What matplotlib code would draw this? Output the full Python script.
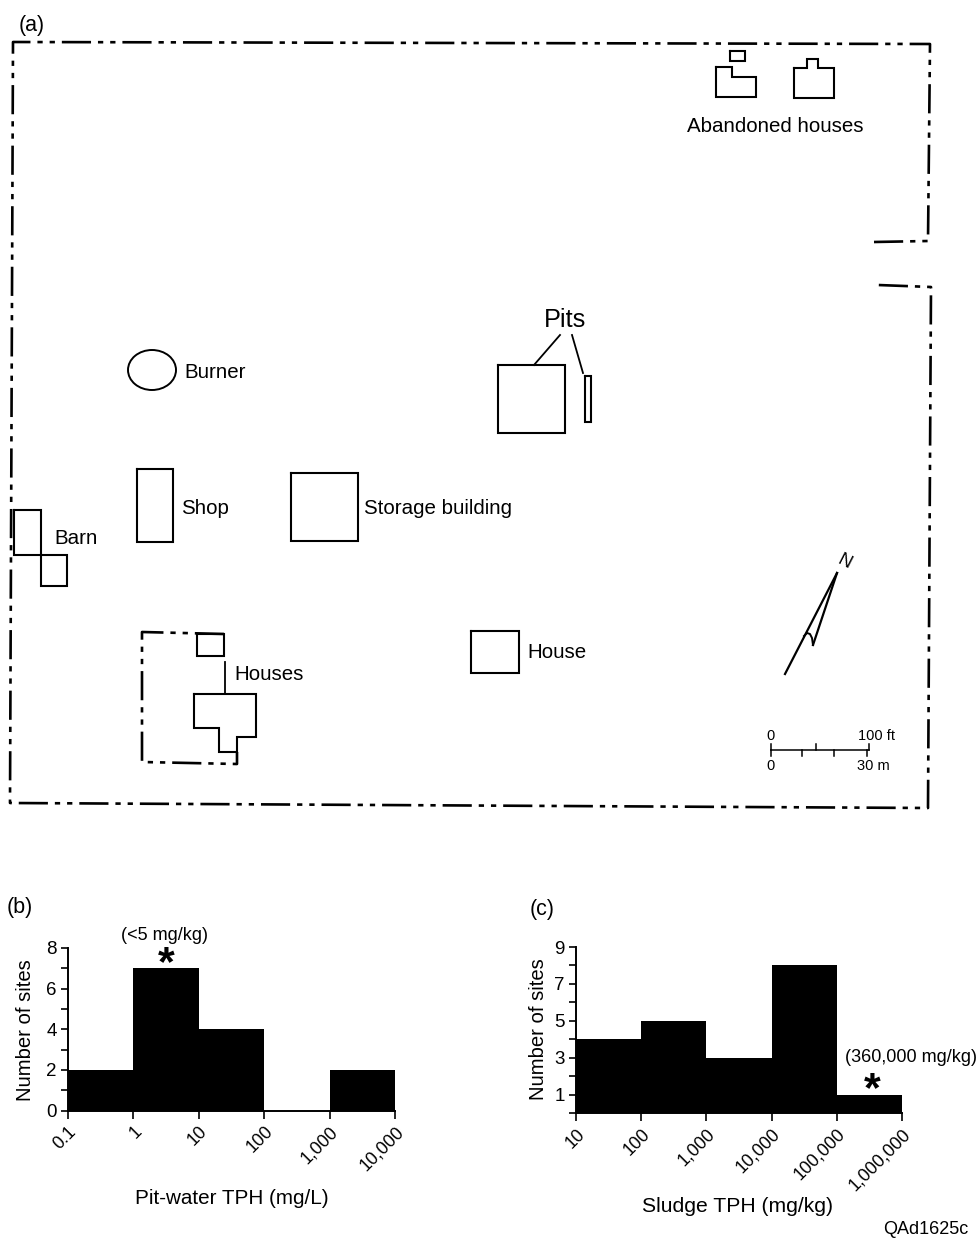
import matplotlib
matplotlib.use("Agg")
import matplotlib.pyplot as plt
import numpy as np
from matplotlib.patches import Ellipse
from matplotlib.ticker import NullLocator

plt.rcParams['font.family'] = ['Liberation Sans', 'DejaVu Sans']
plt.rcParams['lines.scale_dashes'] = False
plt.rcParams['path.simplify'] = False

W, H = 980, 1240

# site map outlines, in scan pixels
boundary_main = [(874, 242), (928, 241), (930, 44), (13, 42), (10, 803), (928, 808), (931, 287), (878, 285)]
boundary_houses = [(224, 634), (142, 632), (142, 762), (237, 764), (237, 752)]
buildings = {
    "abandoned_shed": [(730, 51), (745, 51), (745, 61), (730, 61)],
    "abandoned_1": [(716, 67), (732, 67), (732, 77), (756, 77), (756, 97), (716, 97)],
    "abandoned_2": [(794, 68), (807, 68), (807, 59), (818, 59), (818, 68), (834, 68), (834, 98), (794, 98)],
    "pit_large": [(498, 365), (565, 365), (565, 433), (498, 433)],
    "pit_narrow": [(585, 376), (591, 376), (591, 422), (585, 422)],
    "shop": [(137, 469), (173, 469), (173, 542), (137, 542)],
    "storage": [(291, 473), (358, 473), (358, 541), (291, 541)],
    "barn_1": [(14, 510), (41, 510), (41, 555), (14, 555)],
    "barn_2": [(41, 555), (67, 555), (67, 586), (41, 586)],
    "house": [(471, 631), (519, 631), (519, 673), (471, 673)],
    "house_small": [(197, 634), (224, 634), (224, 656), (197, 656)],
    "house_big": [(194, 694), (256, 694), (256, 737), (237, 737), (237, 752), (219, 752), (219, 728), (194, 728)],
}
leaders = [[(534, 365), (560, 335)], [(583, 373), (572, 335)], [(225, 662), (225, 694)]]
map_labels = [
    ("Abandoned houses", 687, 126, 14.8),
    ("Burner", 184, 373, 14.8),
    ("Shop", 181, 509, 14.8),
    ("Storage building", 364, 508, 14.8),
    ("Barn", 54, 538, 14.8),
    ("Houses", 234, 674, 14.8),
    ("House", 527, 653, 14.8),
    ("Pits", 544, 320, 18.2),
]

# panel b
b_edges = [0.1, 1, 10, 100, 1000, 10000]
b_counts = [2, 7, 4, 0, 2]
b_xlabels = ["0.1", "1", "10", "100", "1,000", "10,000"]
b_major = [0, 2, 4, 6, 8]
b_minor = [1, 3, 5, 7]

# panel c
c_edges = [10, 100, 1000, 10000, 100000, 1000000]
c_counts = [4, 5, 3, 8, 1]
c_xlabels = ["10", "100", "1,000", "10,000", "100,000", "1,000,000"]
c_major = [1, 3, 5, 7, 9]
c_minor = [0, 2, 4, 6, 8]

fig = plt.figure(figsize=(W / 100, H / 100), dpi=100, facecolor="white")

m = fig.add_axes([0, 0, 1, 1])
m.set_xlim(0, W)
m.set_ylim(H, 0)
m.axis("off")

dashdot = (0, (21, 5, 3.8, 5, 3.8, 5))
for pts in [boundary_main, boundary_houses]:
    xs, ys = zip(*pts)
    m.plot(xs, ys, color="black", lw=1.9, ls=dashdot)

for name, pts in buildings.items():
    xs, ys = zip(*(pts + pts[:1]))
    m.plot(xs, ys, color="black", lw=1.5, solid_joinstyle="miter")

m.add_patch(Ellipse((152, 370), 48, 40, fill=False, ec="black", lw=1.4))

for seg in leaders:
    xs, ys = zip(*seg)
    m.plot(xs, ys, color="black", lw=1.3)

for txt, x, y, size in map_labels:
    m.text(x, y, txt, fontsize=size, ha="left", va="center")

# north arrow
m.plot([785, 837], [674, 573], color="black", lw=1.6)
m.plot([837, 813], [573, 645], color="black", lw=1.6)
m.plot([804, 807, 810, 812, 813], [636, 633, 634, 638, 645], color="black", lw=1.4)
m.text(844, 562, "N", fontsize=13, ha="center", va="center", rotation=-27)

# scale bar
m.plot([771, 869], [750, 750], color="black", lw=1.1)
for x in [771, 816, 869]:
    m.plot([x, x], [744, 750], color="black", lw=1.1)
for x in [771, 802, 834, 867]:
    m.plot([x, x], [750, 756], color="black", lw=1.1)
m.text(770, 736, "0", fontsize=10.5, ha="center", va="center")
m.text(858, 736, "100 ft", fontsize=10.5, ha="left", va="center")
m.text(770, 766, "0", fontsize=10.5, ha="center", va="center")
m.text(857, 766, "30 m", fontsize=10.5, ha="left", va="center")

# panel letters and notes
m.text(19, 25, "(a)", fontsize=15.5, ha="left", va="center")
m.text(7, 908, "(b)", fontsize=15.5, ha="left", va="center")
m.text(530, 910, "(c)", fontsize=15.5, ha="left", va="center")
m.text(164, 936, "(<5 mg/kg)", fontsize=13, ha="center", va="center")
m.text(845, 1058, "(360,000 mg/kg)", fontsize=13, ha="left", va="center")
m.text(883, 1230, "QAd1625c", fontsize=13, ha="left", va="center")
m.text(166, 964, "*", fontsize=31, fontweight="bold", ha="center", va="center")
m.text(872, 1090, "*", fontsize=31, fontweight="bold", ha="center", va="center")


def hist_axes(box, edges, counts, xlabels, major, minor, ymax, xlabel, xlabel_pos, xsize):
    x0, x1, ytop, ybot = box
    ax = fig.add_axes([x0 / W, 1 - ybot / H, (x1 - x0) / W, (ybot - ytop) / H])
    ax.patch.set_alpha(0)
    ax.bar(edges[:-1], counts, width=np.diff(edges), align="edge", color="black")
    ax.set_xscale("log")
    ax.set_xlim(edges[0], edges[-1])
    ax.set_ylim(0, ymax)
    ax.spines["top"].set_visible(False)
    ax.spines["right"].set_visible(False)
    ax.spines["left"].set_linewidth(1.4)
    ax.spines["bottom"].set_linewidth(1.4)
    ax.set_xticks(edges)
    ax.set_xticklabels(xlabels, rotation=45, ha="right", va="top",
                       rotation_mode="anchor", fontsize=12.8)
    ax.xaxis.set_minor_locator(NullLocator())
    ax.set_yticks(major)
    ax.set_yticks(minor, minor=True)
    ax.tick_params(axis="y", which="both", length=5, width=1.2, labelsize=13.5, pad=3)
    ax.tick_params(axis="x", which="major", length=6, width=1.2, pad=3)
    m.text(xlabel_pos[0], xlabel_pos[1], xlabel, fontsize=xsize, ha="center", va="center")
    return ax


hist_axes((68, 395, 948, 1110.5), b_edges, b_counts, b_xlabels, b_major, b_minor, 8,
          "Pit-water TPH (mg/L)", (232, 1199), 14.9)
hist_axes((576, 902, 947, 1113), c_edges, c_counts, c_xlabels, c_major, c_minor, 9,
          "Sludge TPH (mg/kg)", (737, 1207), 15.2)

m.text(25, 1030, "Number of sites", fontsize=14.6, rotation=90, ha="center", va="center")
m.text(538, 1029, "Number of sites", fontsize=14.6, rotation=90, ha="center", va="center")

fig.savefig("out.png", dpi=100)
